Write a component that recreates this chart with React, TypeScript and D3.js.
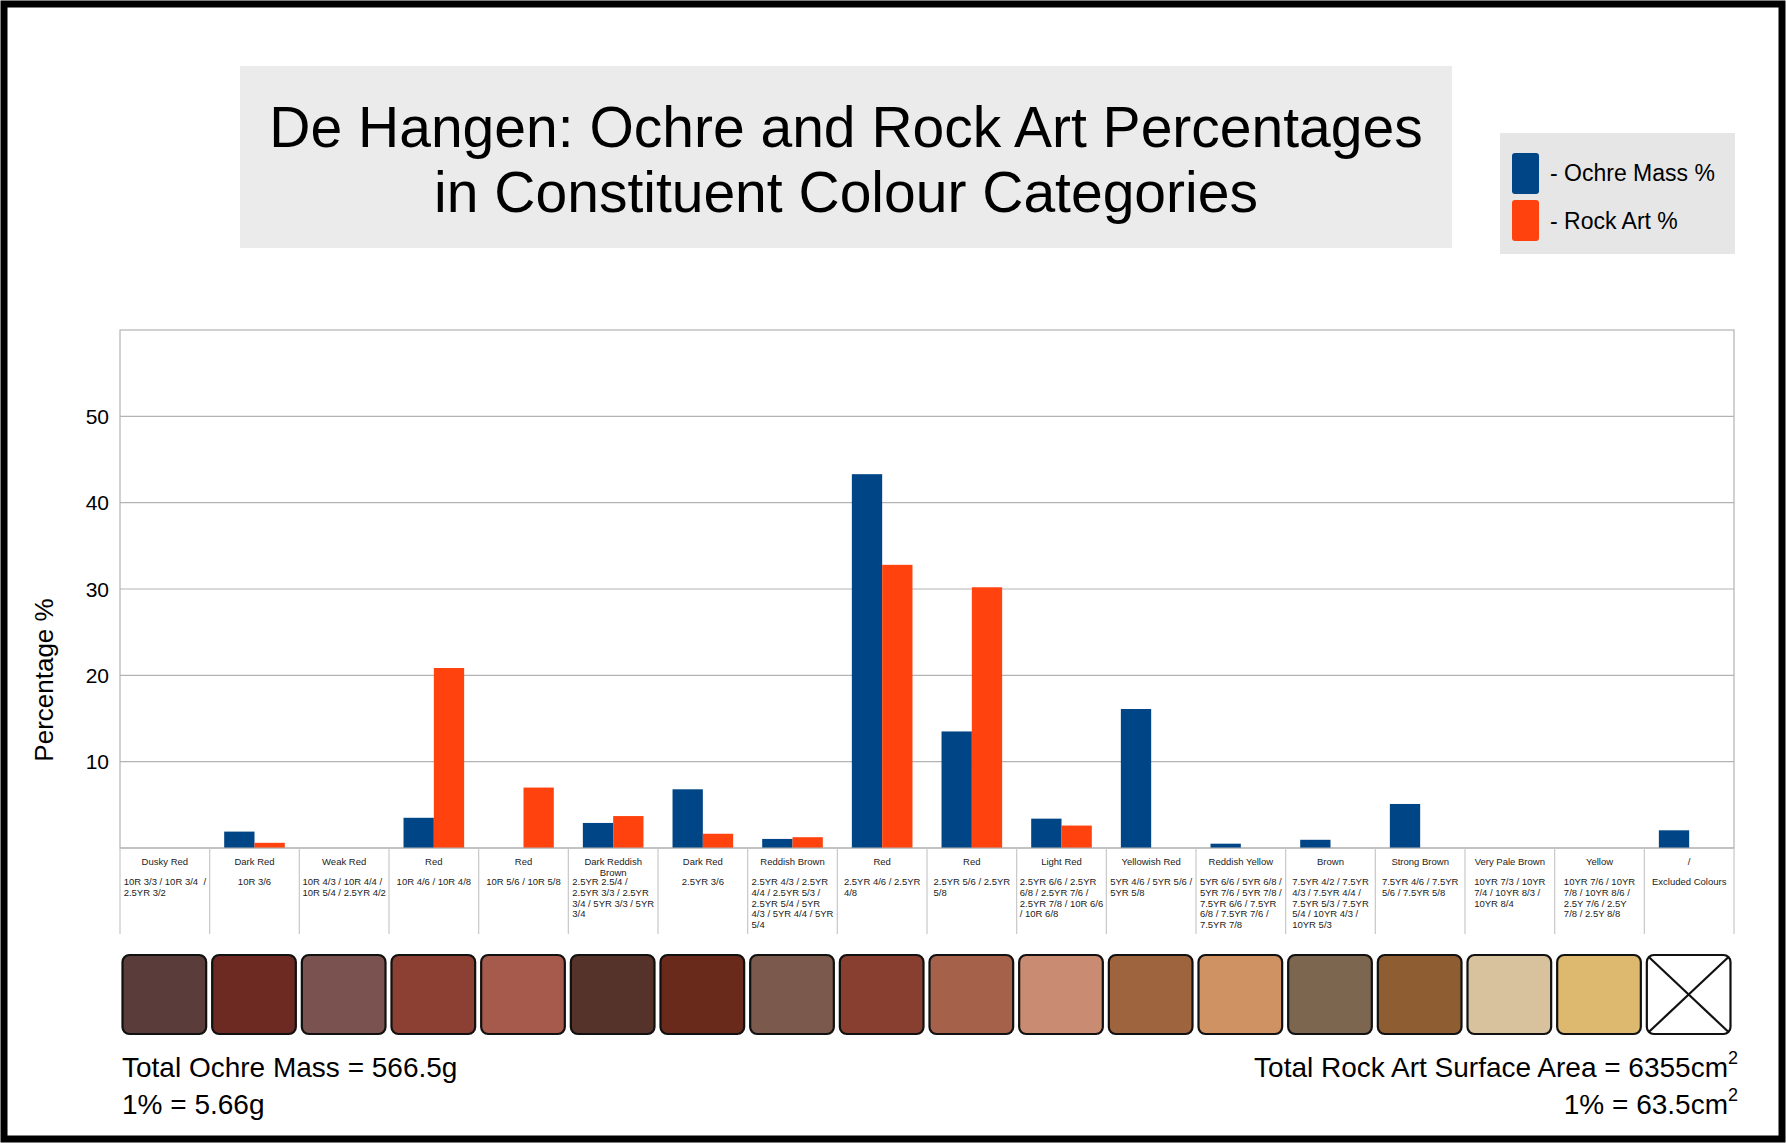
import React from 'react';
import * as d3 from 'd3';

const categories = [
  "Dusky Red", "Dark Red", "Weak Red", "Red", "Red", "Dark Reddish\nBrown", "Dark Red",
  "Reddish Brown", "Red", "Red", "Light Red", "Yellowish Red", "Reddish Yellow", "Brown",
  "Strong Brown", "Very Pale Brown", "Yellow", "/",
];

const munsellCodes = [
  ["10R 3/3 / 10R 3/4  /", "2.5YR 3/2"],
  ["10R 3/6"],
  ["10R 4/3 / 10R 4/4 /", "10R 5/4 / 2.5YR 4/2"],
  ["10R 4/6 / 10R 4/8"],
  ["10R 5/6 / 10R 5/8"],
  ["2.5YR 2.5/4 /", "2.5YR 3/3 / 2.5YR", "3/4 / 5YR 3/3 / 5YR", "3/4"],
  ["2.5YR 3/6"],
  ["2.5YR 4/3 / 2.5YR", "4/4 / 2.5YR 5/3 /", "2.5YR 5/4 / 5YR", "4/3 / 5YR 4/4 / 5YR", "5/4"],
  ["2.5YR 4/6 / 2.5YR", "4/8"],
  ["2.5YR 5/6 / 2.5YR", "5/8"],
  ["2.5YR 6/6 / 2.5YR", "6/8 / 2.5YR 7/6 /", "2.5YR 7/8 / 10R 6/6", "/ 10R 6/8"],
  ["5YR 4/6 / 5YR 5/6 /", "5YR 5/8"],
  ["5YR 6/6 / 5YR 6/8 /", "5YR 7/6 / 5YR 7/8 /", "7.5YR 6/6 / 7.5YR", "6/8 / 7.5YR 7/6 /", "7.5YR 7/8"],
  ["7.5YR 4/2 / 7.5YR", "4/3 / 7.5YR 4/4 /", "7.5YR 5/3 / 7.5YR", "5/4 / 10YR 4/3 /", "10YR 5/3"],
  ["7.5YR 4/6 / 7.5YR", "5/6 / 7.5YR 5/8"],
  ["10YR 7/3 / 10YR", "7/4 / 10YR 8/3 /", "10YR 8/4"],
  ["10YR 7/6 / 10YR", "7/8 / 10YR 8/6 /", "2.5Y 7/6 / 2.5Y", "7/8 / 2.5Y 8/8"],
  ["Excluded Colours"],
];

const ochreMass = [0, 1.9, 0, 3.5, 0, 2.9, 6.8, 1.05, 43.3, 13.5, 3.4, 16.1, 0.5, 0.95, 5.1, 0, 0, 2.05];
const rockArt = [0, 0.6, 0, 20.85, 7.0, 3.7, 1.65, 1.25, 32.8, 30.2, 2.6, 0, 0, 0, 0, 0, 0, 0];

const swatchColours = [
  "#5a3c3a", "#6c2a22", "#7a5350", "#8c3f33", "#a65a4b", "#55322a", "#6a2a1b", "#7b5a4d",
  "#893f2f", "#a6614b", "#c98b72", "#9e643d", "#cf9263", "#7c6650", "#8e5d31", "#d8c29d",
  "#ddb86f", "none",
];

const yTicks = [10, 20, 30, 40, 50];

const seriesNames = ["- Ochre Mass %", "- Rock Art %"];
const seriesColours = ["#004586", "#ff420e"];

const W = 1786;
const H = 1143;
const FONT = "'Liberation Sans', Arial, sans-serif";

let ctx: CanvasRenderingContext2D | null = null;
function measure(text: string, size: number) {
  if (!ctx) ctx = document.createElement('canvas').getContext('2d');
  if (!ctx) return text.length * size * 0.5;
  ctx.font = `${size}px 'Liberation Sans'`;
  return ctx.measureText(text).width;
}

export default function App() {
  const left = 120, right = 1734, top = 330, bottom = 848;
  const x = d3.scaleBand<number>().domain(d3.range(categories.length)).range([left, right]).padding(0);
  const y = d3.scaleLinear().domain([0, 60]).range([bottom, top]);
  const bw = x.bandwidth();
  const barW = bw * 0.338;
  const groupOff = (bw - 2 * barW) / 2;
  const series = [ochreMass, rockArt];
  const labelSize = 9.5;

  return (
    <svg width={W} height={H} style={{ position: 'absolute', left: 0, top: 0, background: '#fff' }}
      fontFamily={FONT}>
      <rect x={0} y={0} width={W} height={H} fill="#fff" />
      {/* title box */}
      <rect x={240} y={66} width={1212} height={182} fill="#ebebeb" />
      <text x={846} y={147} textAnchor="middle" fontSize={57} fill="#000">De Hangen: Ochre and Rock Art Percentages</text>
      <text x={846} y={212} textAnchor="middle" fontSize={57} fill="#000">in Constituent Colour Categories</text>

      {/* legend */}
      <rect x={1500} y={133} width={235} height={121} fill="#e6e6e6" />
      {seriesNames.map((s, i) => (
        <g key={s}>
          <rect x={1512} y={153 + i * 47} width={27} height={41} rx={3} fill={seriesColours[i]} />
          <text x={1550} y={181 + i * 48} fontSize={23} fill="#000">{s}</text>
        </g>
      ))}

      {/* plot area */}
      <rect x={left} y={top} width={right - left} height={bottom - top} fill="#fff" stroke="#b3b3b3" strokeWidth={1.2} />
      {yTicks.map(t => (
        <g key={t}>
          <line x1={left} x2={right} y1={y(t)} y2={y(t)} stroke="#b3b3b3" strokeWidth={1.2} />
          <text x={109} y={y(t) + 7.5} textAnchor="end" fontSize={21} fill="#000">{t}</text>
        </g>
      ))}
      <text transform={`translate(53,680) rotate(-90)`} textAnchor="middle" fontSize={26} fill="#000">Percentage %</text>

      {/* bars */}
      {series.map((vals, si) => vals.map((v, i) => v > 0 ? (
        <rect key={`${si}-${i}`} x={(x(i) as number) + groupOff + si * barW} y={y(v)} width={barW}
          height={y(0) - y(v)} fill={seriesColours[si]} />
      ) : null))}
      <line x1={left} x2={right} y1={bottom} y2={bottom} stroke="#b3b3b3" strokeWidth={1.2} />

      {/* category separators and labels */}
      {d3.range(categories.length + 1).map(i => {
        const xx = i < categories.length ? (x(i) as number) : right;
        return <line key={`sep${i}`} x1={xx} x2={xx} y1={bottom} y2={934} stroke="#c8c8c8" strokeWidth={1.2} />;
      })}
      {categories.map((c, i) => {
        const cx = (x(i) as number) + bw / 2;
        const nameLines = c.split('\n');
        const codes = munsellCodes[i];
        const blockW = Math.max(...codes.map(l => measure(l, labelSize)));
        const bx = cx - blockW / 2;
        return (
          <g key={`lab${i}`} fontSize={labelSize} fill="#222">
            {nameLines.map((n, j) => (
              <text key={j} x={cx} y={865 + j * 11} textAnchor="middle">{n}</text>
            ))}
            {codes.map((l, j) => (
              <text key={`c${j}`} x={bx} y={885 + j * 10.8} style={{ whiteSpace: 'pre' }}>{l}</text>
            ))}
          </g>
        );
      })}

      {/* swatches */}
      {swatchColours.map((col, i) => {
        const sx = (x(i) as number) + 2.5;
        const sw = bw - 6;
        const sy = 955, sh = 79;
        return (
          <g key={`sw${i}`}>
            <rect x={sx} y={sy} width={sw} height={sh} rx={7} fill={col === 'none' ? '#fff' : col}
              stroke="#111" strokeWidth={2.2} />
            {col === 'none' && (
              <g stroke="#111" strokeWidth={2.2}>
                <line x1={sx + 2} y1={sy + 2} x2={sx + sw - 2} y2={sy + sh - 2} />
                <line x1={sx + sw - 2} y1={sy + 2} x2={sx + 2} y2={sy + sh - 2} />
              </g>
            )}
          </g>
        );
      })}

      {/* footer text */}
      <text x={122} y={1077} fontSize={28} fill="#000">Total Ochre Mass = 566.5g</text>
      <text x={122} y={1114} fontSize={28} fill="#000">1% = 5.66g</text>
      <text x={1738} y={1077} textAnchor="end" fontSize={28} fill="#000">
        Total Rock Art Surface Area = 6355cm<tspan fontSize={18} dy={-13}>2</tspan>
      </text>
      <text x={1738} y={1114} textAnchor="end" fontSize={28} fill="#000">
        1% = 63.5cm<tspan fontSize={18} dy={-13}>2</tspan>
      </text>

      {/* outer frame */}
      <rect x={4} y={4} width={W - 8} height={H - 8} fill="none" stroke="#000" strokeWidth={7} />
    </svg>
  );
}
